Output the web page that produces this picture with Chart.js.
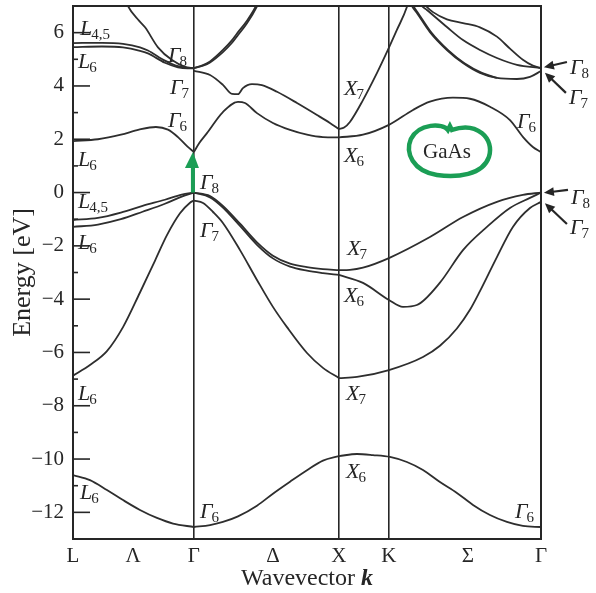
<!DOCTYPE html>
<html>
<head>
<meta charset="utf-8">
<style>
  html, body { margin: 0; padding: 0; background: #fff; }
  #wrap { width: 596px; height: 593px; }
</style>
<script src="https://cdn.jsdelivr.net/npm/chart.js@4.4.1/dist/chart.umd.min.js"></script>
</head>
<body>
<div id="wrap"><canvas id="bands" width="596" height="593"></canvas></div>
<script>
// high symmetry points along the path, and the line labels between them
var kSym = [0, 0.834, 1.834, 2.179, 3.228];
var kSymLabels = ['L', 'Γ', 'X', 'K', 'Γ'];
var kMid = [0.414, 1.379, 2.724];
var kMidLabels = ['Λ', 'Δ', 'Σ'];
var energyTicks = [-12, -10, -8, -6, -4, -2, 0, 2, 4, 6];

// bands, [k, E in eV]
// --- L to Gamma ---
var cbLowLG = [[0, 1.93], [0.172, 2.0], [0.331, 2.17], [0.455, 2.36], [0.572, 2.46], [0.655, 2.36], [0.724, 2.08], [0.79, 1.72], [0.834, 1.52]];
var cbL45G = [[0, 5.61], [0.2, 5.62], [0.345, 5.58], [0.462, 5.45], [0.517, 5.33], [0.634, 4.95], [0.724, 4.74], [0.79, 4.68], [0.834, 4.67]];
var cbL6G = [[0, 5.46], [0.2, 5.48], [0.345, 5.45], [0.462, 5.32], [0.517, 5.22], [0.634, 4.87], [0.724, 4.7], [0.79, 4.66], [0.834, 4.66]];
var cbG8Left = [[0.372, 7.1], [0.379, 7.0], [0.455, 6.45], [0.497, 6.2], [0.586, 5.45], [0.683, 4.97], [0.772, 4.72], [0.834, 4.67]];
var vbL45G = [[0, -1.03], [0.172, -0.95], [0.33, -0.75], [0.48, -0.5], [0.634, -0.27], [0.75, -0.08], [0.834, 0.0]];
var vbL6G = [[0, -1.29], [0.172, -1.2], [0.33, -1.0], [0.48, -0.72], [0.634, -0.42], [0.75, -0.15], [0.834, 0.0]];
var vbSoLG = [[0, -6.87], [0.117, -6.47], [0.234, -5.95], [0.345, -5.05], [0.462, -3.75], [0.566, -2.55], [0.648, -1.6], [0.738, -0.78], [0.807, -0.38], [0.834, -0.3]];
var vbDeepLG = [[0, -10.6], [0.117, -10.79], [0.234, -11.16], [0.345, -11.54], [0.462, -11.91], [0.579, -12.21], [0.69, -12.42], [0.834, -12.55]];
// --- Gamma to X ---
var cbLowGX = [[0.834, 1.52], [0.87, 1.85], [0.924, 2.23], [1.034, 3.02], [1.138, 3.4], [1.186, 3.36], [1.269, 2.98], [1.379, 2.61], [1.497, 2.35], [1.614, 2.17], [1.724, 2.08], [1.834, 2.07]];
var cbG7X = [[0.834, 4.57], [0.945, 4.41], [1.034, 4.04], [1.097, 3.7], [1.138, 3.69], [1.172, 3.92], [1.234, 4.07], [1.303, 4.03], [1.407, 3.78], [1.545, 3.36], [1.683, 2.91], [1.772, 2.61], [1.834, 2.38]];
var cbG8RightA = [[0.834, 4.67], [0.897, 4.78], [0.945, 4.92], [1.034, 5.35], [1.097, 5.72], [1.131, 5.97], [1.2, 6.45], [1.262, 7.0], [1.27, 7.1]];
var cbG8RightB = [[0.834, 4.67], [0.897, 4.76], [0.945, 4.88], [1.034, 5.27], [1.097, 5.62], [1.131, 5.86], [1.2, 6.35], [1.27, 7.0], [1.278, 7.1]];
var vbHhGX = [[0.834, 0.0], [0.945, -0.13], [1.034, -0.5], [1.152, -1.17], [1.269, -1.87], [1.379, -2.37], [1.497, -2.67], [1.614, -2.8], [1.724, -2.87], [1.834, -2.91]];
var vbLhGX = [[0.834, 0.0], [0.945, -0.18], [1.034, -0.56], [1.152, -1.25], [1.269, -1.96], [1.379, -2.47], [1.497, -2.78], [1.614, -2.93], [1.724, -3.02], [1.834, -3.09]];
var vbSoGX = [[0.834, -0.3], [0.897, -0.39], [0.966, -0.73], [1.034, -1.14], [1.152, -2.16], [1.269, -3.28], [1.379, -4.29], [1.476, -5.05], [1.614, -6.02], [1.724, -6.58], [1.834, -6.96]];
var vbDeepGX = [[0.834, -12.55], [0.945, -12.48], [1.034, -12.36], [1.138, -12.15], [1.269, -11.75], [1.379, -11.3], [1.497, -10.85], [1.614, -10.42], [1.724, -10.06], [1.834, -9.89]];
// --- X through K to Gamma ---
var cbX6G = [[1.834, 2.07], [2.0, 2.17], [2.179, 2.54], [2.345, 3.1], [2.462, 3.41], [2.621, 3.56], [2.738, 3.52], [2.876, 3.22], [3.014, 2.72], [3.103, 2.09], [3.172, 1.71], [3.228, 1.52]];
var cbX7Up = [[1.834, 2.38], [1.87, 2.44], [1.91, 2.65], [2.0, 3.47], [2.097, 4.49], [2.172, 5.35], [2.234, 6.1], [2.303, 6.96], [2.31, 7.1]];
var cbSigA = [[2.33, 7.1], [2.338, 7.0], [2.372, 6.74], [2.462, 6.02], [2.579, 5.35], [2.69, 4.86], [2.807, 4.49], [2.924, 4.3], [3.062, 4.26], [3.152, 4.34], [3.228, 4.56]];
var cbSigA2 = [[2.34, 7.1], [2.348, 7.0], [2.382, 6.72], [2.472, 6.0], [2.589, 5.33], [2.7, 4.85], [2.82, 4.49], [2.924, 4.3]];
var cbSigB = [[2.398, 7.1], [2.407, 7.0], [2.441, 6.85], [2.579, 6.21], [2.69, 5.72], [2.807, 5.35], [2.924, 5.05], [3.062, 4.79], [3.228, 4.67]];
var cbSigC = [[2.42, 7.1], [2.434, 7.0], [2.483, 6.77], [2.579, 6.5], [2.69, 6.36], [2.807, 6.2], [2.924, 5.85], [3.014, 5.4], [3.103, 4.98], [3.172, 4.76], [3.228, 4.67]];
var vbX7G = [[1.834, -2.91], [1.91, -2.9], [2.0, -2.82], [2.179, -2.46], [2.462, -1.67], [2.69, -0.92], [2.924, -0.35], [3.103, -0.09], [3.228, 0.0]];
var vbX6G = [[1.834, -3.09], [2.0, -3.39], [2.179, -4.03], [2.276, -4.29], [2.372, -4.22], [2.531, -3.38], [2.69, -2.16], [2.855, -1.29], [3.014, -0.58], [3.152, -0.2], [3.228, 0.0]];
var vbX7lowG = [[1.834, -6.96], [1.959, -6.92], [2.179, -6.66], [2.414, -6.17], [2.531, -5.75], [2.648, -5.1], [2.738, -4.4], [2.807, -3.7], [2.924, -2.42], [3.034, -1.29], [3.152, -0.58], [3.228, -0.35]];
var vbDeepXG = [[1.834, -9.89], [1.959, -9.81], [2.069, -9.85], [2.186, -9.92], [2.303, -10.11], [2.414, -10.41], [2.531, -10.86], [2.648, -11.27], [2.759, -11.72], [2.876, -12.1], [2.993, -12.36], [3.103, -12.51], [3.228, -12.55]];

var allBands = [cbLowLG, cbL45G, cbL6G, cbG8Left, vbL45G, vbL6G, vbSoLG, vbDeepLG,
  cbLowGX, cbG7X, cbG8RightA, cbG8RightB, vbHhGX, vbLhGX, vbSoGX, vbDeepGX,
  cbX6G, cbX7Up, cbSigA, cbSigA2, cbSigB, cbSigC, vbX7G, vbX6G, vbX7lowG, vbDeepXG];

// symmetry labels inside the plot: [k, E, letter, subscript]  (baseline-left)
var symLabels = [
  [0.048, 5.92, 'L', '4,5'], [0.034, 4.67, 'L', '6'], [0.655, 4.90, 'Γ', '8'], [0.669, 3.70, 'Γ', '7'],
  [0.655, 2.46, 'Γ', '6'], [0.034, 1.0, 'L', '6'], [0.876, 0.13, 'Γ', '8'], [0.034, -0.58, 'L', '4,5'],
  [0.876, -1.67, 'Γ', '7'], [0.034, -2.12, 'L', '6'], [1.869, 3.66, 'X', '7'], [1.869, 1.15, 'X', '6'],
  [3.062, 2.42, 'Γ', '6'], [1.89, -2.34, 'X', '7'], [1.869, -4.11, 'X', '6'], [1.883, -7.78, 'X', '7'],
  [1.883, -10.71, 'X', '6'], [0.034, -7.78, 'L', '6'], [0.048, -11.5, 'L', '6'], [0.876, -12.21, 'Γ', '6'],
  [3.048, -12.21, 'Γ', '6']
];
// labels right of the frame with arrows: [k tail, E tail, k tip, E tip, letter, sub, E text]
var sideLabels = [
  [3.407, 4.90, 3.248, 4.70, 'Γ', '8', 4.45],
  [3.400, 3.74, 3.255, 4.50, 'Γ', '7', 3.32],
  [3.414, 0.10, 3.248, -0.01, 'Γ', '8', -0.43],
  [3.407, -1.18, 3.255, -0.40, 'Γ', '7', -1.56]
];

var serif = '"Liberation Serif", "DejaVu Serif", serif';
var ink = '#262626';
var green = '#1b9e55';

function drawSym(ctx, x, y, main, sub) {
  ctx.font = 'italic 22px ' + serif;
  ctx.fillText(main, x, y);
  var w = ctx.measureText(main).width;
  ctx.font = '15px ' + serif;
  ctx.fillText(sub, x + w - 1, y + 4);
}

function arrow(ctx, x1, y1, x2, y2) {
  var a = Math.atan2(y2 - y1, x2 - x1);
  ctx.beginPath();
  ctx.moveTo(x1, y1);
  ctx.lineTo(x2 - 7 * Math.cos(a), y2 - 7 * Math.sin(a));
  ctx.stroke();
  ctx.beginPath();
  ctx.moveTo(x2, y2);
  ctx.lineTo(x2 - 10 * Math.cos(a) + 4.5 * Math.sin(a), y2 - 10 * Math.sin(a) - 4.5 * Math.cos(a));
  ctx.lineTo(x2 - 10 * Math.cos(a) - 4.5 * Math.sin(a), y2 - 10 * Math.sin(a) + 4.5 * Math.cos(a));
  ctx.closePath();
  ctx.fill();
}

var decorations = {
  id: 'decorations',
  afterDatasetsDraw: function (chart) {
    var ctx = chart.ctx, xs = chart.scales.x, ys = chart.scales.y, area = chart.chartArea;
    ctx.save();
    ctx.strokeStyle = ink;
    ctx.fillStyle = ink;
    // frame
    ctx.lineWidth = 2;
    ctx.strokeRect(area.left, area.top, area.right - area.left, area.bottom - area.top);
    // inward ticks on energy axis
    ctx.lineWidth = 1.6;
    ys.ticks.forEach(function (t) {
      var y = ys.getPixelForValue(t.value);
      var len = energyTicks.indexOf(t.value) >= 0 ? 17 : 5;
      ctx.beginPath();
      ctx.moveTo(area.left, y);
      ctx.lineTo(area.left + len, y);
      ctx.stroke();
    });
    // symmetry labels
    ctx.textBaseline = 'alphabetic';
    ctx.textAlign = 'left';
    symLabels.forEach(function (l) {
      drawSym(ctx, xs.getPixelForValue(l[0]), ys.getPixelForValue(l[1]), l[2], l[3]);
    });
    ctx.lineWidth = 2.2;
    sideLabels.forEach(function (l) {
      arrow(ctx, xs.getPixelForValue(l[0]), ys.getPixelForValue(l[1]), xs.getPixelForValue(l[2]), ys.getPixelForValue(l[3]));
      drawSym(ctx, xs.getPixelForValue(l[0]) + 3, ys.getPixelForValue(l[6]), l[4], l[5]);
    });
    // x axis title with bold italic k
    ctx.font = '24px ' + serif;
    var w1 = ctx.measureText('Wavevector ').width;
    ctx.font = 'bold italic 24px ' + serif;
    var w2 = ctx.measureText('k').width;
    var cx = (area.left + area.right) / 2;
    var x0 = cx - (w1 + w2) / 2;
    ctx.font = '24px ' + serif;
    ctx.fillText('Wavevector ', x0, 585);
    ctx.font = 'bold italic 24px ' + serif;
    ctx.fillText('k', x0 + w1, 585);
    // green hand annotations: gap arrow at Gamma and circled GaAs
    var gx = xs.getPixelForValue(kSym[1]);
    var yTop = ys.getPixelForValue(cbLowGX[0][1]);
    var yBot = ys.getPixelForValue(vbHhGX[0][1]);
    ctx.strokeStyle = green;
    ctx.fillStyle = green;
    ctx.lineWidth = 4;
    ctx.beginPath();
    ctx.moveTo(gx - 1, yBot);
    ctx.lineTo(gx - 1, yTop + 10);
    ctx.stroke();
    ctx.beginPath();
    ctx.moveTo(gx - 1, yTop);
    ctx.lineTo(gx - 9, yTop + 16);
    ctx.lineTo(gx + 5, yTop + 16);
    ctx.closePath();
    ctx.fill();
    var ox = xs.getPixelForValue(2.579), oy = ys.getPixelForValue(1.56);
    ctx.lineWidth = 4.5;
    ctx.beginPath();
    ctx.moveTo(ox + 5, oy - 21);
    ctx.bezierCurveTo(ox + 30, oy - 30, ox + 48, oy - 12, ox + 42, oy + 6);
    ctx.bezierCurveTo(ox + 36, oy + 24, ox + 10, oy + 27, ox - 10, oy + 24);
    ctx.bezierCurveTo(ox - 34, oy + 20, ox - 42, oy + 2, ox - 36, oy - 12);
    ctx.bezierCurveTo(ox - 28, oy - 28, ox - 4, oy - 28, ox + 1, oy - 21);
    ctx.lineTo(ox + 3, oy - 25);
    ctx.closePath();
    ctx.stroke();
    ctx.fillStyle = ink;
    ctx.font = '21px ' + serif;
    ctx.textAlign = 'center';
    ctx.fillText('GaAs', ox, oy + 7);
    ctx.restore();
  }
};

var datasets = allBands.map(function (band) {
  return {
    data: band.map(function (p) { return { x: p[0], y: p[1] }; }),
    showLine: true,
    borderColor: '#2e2e2e',
    borderWidth: 1.8,
    pointRadius: 0,
    cubicInterpolationMode: 'monotone',
    fill: false
  };
});

var kTickValues = kSym.concat(kMid).sort(function (a, b) { return a - b; });

new Chart(document.getElementById('bands'), {
  type: 'scatter',
  data: { datasets: datasets },
  options: {
    responsive: false,
    animation: false,
    devicePixelRatio: 1,
    layout: { padding: { top: 6, right: 55, left: 0, bottom: 0 } },
    plugins: { legend: { display: false }, tooltip: { enabled: false } },
    scales: {
      x: {
        type: 'linear',
        min: kSym[0],
        max: kSym[kSym.length - 1],
        afterBuildTicks: function (scale) {
          scale.ticks = kTickValues.map(function (v) { return { value: v }; });
        },
        afterFit: function (scale) {
          scale.height = 54;
          scale.paddingLeft = 0;
          scale.paddingRight = 0;
        },
        border: { display: false },
        grid: {
          drawTicks: false,
          lineWidth: 1.6,
          color: function (c) {
            var v = c.tick ? c.tick.value : null;
            return (v === kSym[1] || v === kSym[2] || v === kSym[3]) ? ink : 'rgba(0,0,0,0)';
          }
        },
        ticks: {
          autoSkip: false,
          maxRotation: 0,
          padding: 5,
          color: ink,
          font: { family: serif, size: 21 },
          callback: function (v) {
            var i = kSym.indexOf(v);
            if (i >= 0) return kSymLabels[i];
            i = kMid.indexOf(v);
            return i >= 0 ? kMidLabels[i] : '';
          }
        }
      },
      y: {
        min: -13,
        max: 7,
        afterFit: function (scale) {
          scale.width = 73;
          scale.paddingTop = 0;
          scale.paddingBottom = 0;
        },
        border: { display: false },
        grid: { display: false, drawTicks: false },
        title: {
          display: true,
          text: 'Energy [eV]',
          color: ink,
          font: { family: serif, size: 26 },
          padding: { top: 8, bottom: 0 }
        },
        ticks: {
          stepSize: 1,
          autoSkip: false,
          padding: 9,
          color: ink,
          font: { family: serif, size: 21 },
          callback: function (v) {
            if (energyTicks.indexOf(v) < 0) return '';
            return v < 0 ? '\u2212' + Math.abs(v) : String(v);
          }
        }
      }
    }
  },
  plugins: [decorations]
});
</script>
</body>
</html>
